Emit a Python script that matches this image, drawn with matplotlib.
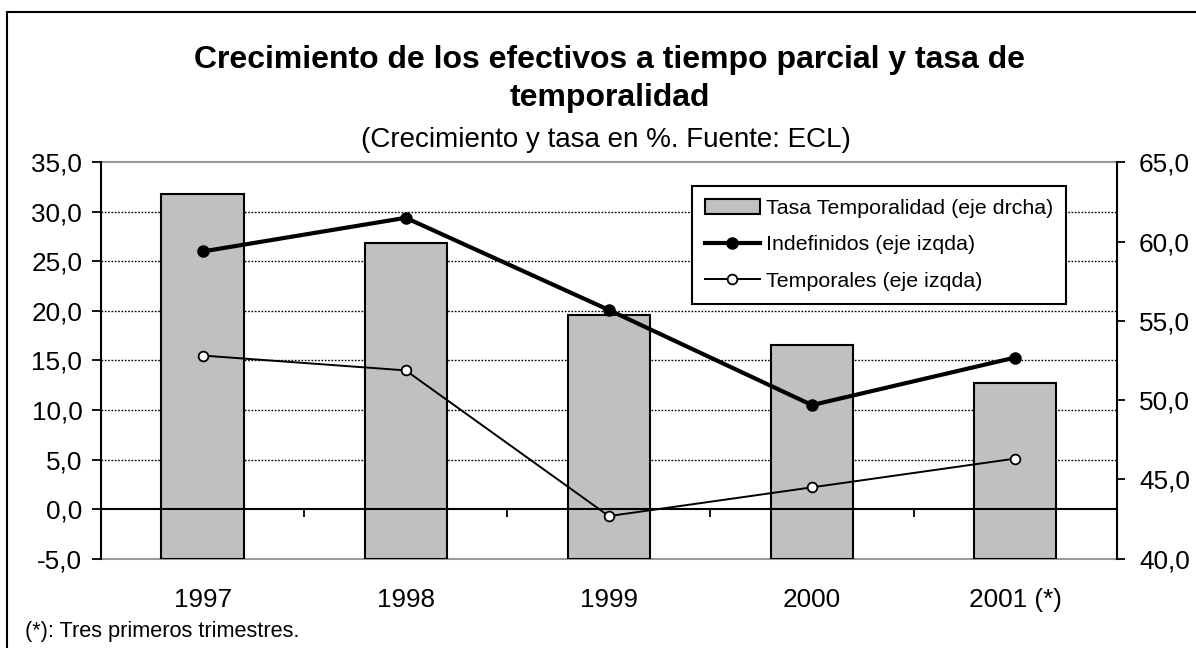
import numpy as np
import matplotlib
matplotlib.use('Agg')
import matplotlib.pyplot as plt
from matplotlib.patches import Rectangle

plt.rcParams['font.family'] = ['Liberation Sans', 'DejaVu Sans']

# ---- data ----
years = ['1997', '1998', '1999', '2000', '2001 (*)']
tasa_temporalidad = [63.0, 59.9, 55.4, 53.5, 51.1]   # right axis
indefinidos = [26.0, 29.4, 20.1, 10.5, 15.3]         # left axis
temporales = [15.5, 14.0, -0.7, 2.2, 5.1]            # left axis
left_ticks = [-5, 0, 5, 10, 15, 20, 25, 30, 35]
right_ticks = [40, 45, 50, 55, 60, 65]
labels = ['Tasa Temporalidad (eje drcha)', 'Indefinidos (eje izqda)', 'Temporales (eje izqda)']
title1 = 'Crecimiento de los efectivos a tiempo parcial y tasa de'
title2 = 'temporalidad'
subtitle = '(Crecimiento y tasa en %. Fuente: ECL)'
footnote = '(*): Tres primeros trimestres.'

W, H = 1196, 648
fig = plt.figure(figsize=(W / 100, H / 100), dpi=100)
fig.patch.set_facecolor('white')

pl, pr, pt, pb = 101, 1116.7, 162.3, 558.7
pos = [pl / W, 1 - pb / H, (pr - pl) / W, (pb - pt) / H]

x = np.arange(len(years))
xlim = (-0.5, len(years) - 0.5)

def fmt(v):
    return f'{v:.1f}'.replace('.', ',')

# --- grid axes (bottom layer) ---
axg = fig.add_axes(pos, zorder=0)
axg.set_xlim(xlim)
axg.set_ylim(left_ticks[0], left_ticks[-1])
for v in left_ticks[2:-1]:
    axg.axhline(v, color='black', lw=1.0, linestyle=(0, (1.2, 1.2)))
axg.set_xticks([])
axg.set_yticks([])
for s in ['left', 'right']:
    axg.spines[s].set_visible(False)
for s in ['top', 'bottom']:
    axg.spines[s].set_color('#9a9a9a')
    axg.spines[s].set_linewidth(1.5)

# --- bars axes (right scale) ---
axb = fig.add_axes(pos, zorder=1)
axb.patch.set_visible(False)
axb.set_xlim(xlim)
axb.set_ylim(right_ticks[0], right_ticks[-1])
bars = axb.bar(x, np.array(tasa_temporalidad) - right_ticks[0], bottom=right_ticks[0],
               width=0.405, color='#C0C0C0', edgecolor='black', linewidth=1.5,
               label=labels[0])
axb.yaxis.tick_right()
axb.set_yticks(right_ticks)
axb.set_yticklabels([fmt(v) for v in right_ticks])
axb.tick_params(axis='y', which='major', direction='out', length=6, width=1.3,
                pad=10, labelsize=18.8)
axb.set_xticks(x)
axb.set_xticklabels(years)
axb.tick_params(axis='x', length=0, pad=21, labelsize=18.8)
for s in ['left', 'top', 'bottom']:
    axb.spines[s].set_visible(False)
axb.spines['right'].set_linewidth(1.5)

# --- lines axes (left scale) ---
axl = fig.add_axes(pos, zorder=2)
axl.patch.set_visible(False)
axl.set_xlim(xlim)
axl.set_ylim(left_ticks[0], left_ticks[-1])
l1, = axl.plot(x, indefinidos, color='black', lw=3.0, marker='o', markersize=8,
               markerfacecolor='black', markeredgecolor='black', label=labels[1], zorder=3)
l2, = axl.plot(x, temporales, color='black', lw=1.4, marker='o', markersize=7,
               markerfacecolor='white', markeredgecolor='black', markeredgewidth=1.3,
               label=labels[2], zorder=4)
axl.set_yticks(left_ticks)
axl.set_yticklabels([fmt(v) for v in left_ticks])
axl.tick_params(axis='y', direction='out', length=6.5, width=1.3, pad=7, labelsize=18.8)
axl.spines['bottom'].set_position(('data', 0))
axl.spines['bottom'].set_linewidth(1.5)
axl.spines['left'].set_linewidth(1.5)
axl.spines['top'].set_visible(False)
axl.spines['right'].set_visible(False)
axl.set_xticks(np.arange(len(years) + 1) - 0.5)
axl.set_xticklabels([])
axl.tick_params(axis='x', direction='out', length=6, width=1.3)

# --- titles ---
fig.text(610 / W, 1 - 60 / H, title1, ha='center', va='center', fontsize=23, fontweight='bold')
fig.text(610 / W, 1 - 98 / H, title2, ha='center', va='center', fontsize=23, fontweight='bold')
fig.text(606 / W, 1 - 140 / H, subtitle, ha='center', va='center', fontsize=20)
fig.text(25 / W, 1 - 636.6 / H, footnote, ha='left', va='baseline', fontsize=15.7)

# --- legend ---
leg = fig.legend([bars, l1, l2], labels, loc='upper left',
                 bbox_to_anchor=(692 / W, 1 - 186 / H), bbox_transform=fig.transFigure,
                 borderaxespad=0, borderpad=0.6, handlelength=2.57, handletextpad=0.3,
                 labelspacing=0.82, fontsize=15.4, frameon=True, fancybox=False,
                 edgecolor='black', framealpha=1)
leg.get_frame().set_linewidth(1.5)

# --- outer border ---
fig.add_artist(Rectangle((7 / W, -0.1), 1.2, 1.1 - 12 / H, transform=fig.transFigure,
                         fill=False, lw=1.5, ec='black'))

fig.savefig('out.png', dpi=100)
